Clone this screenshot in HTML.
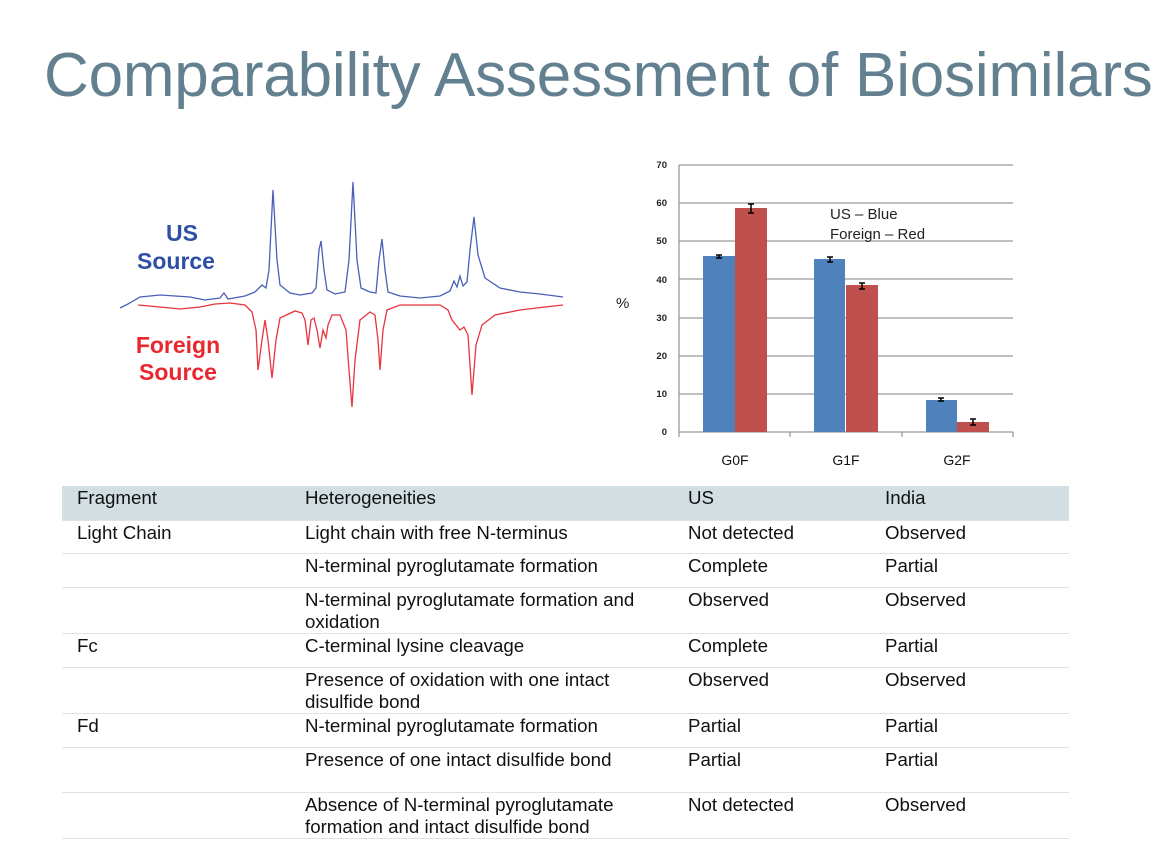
<!DOCTYPE html>
<html><head><meta charset="utf-8"><style>
body{margin:0;width:1164px;height:868px;background:#fff;position:relative;overflow:hidden;font-family:"Liberation Sans",Arial,sans-serif}
.t{position:absolute;left:44px;top:40px;font-size:62px;color:#62808f;white-space:nowrap;letter-spacing:-0.2px}
table{position:absolute;left:62px;top:486px;width:1007px;border-collapse:collapse;font-size:18.7px;color:#111;table-layout:fixed}
td{vertical-align:top;padding:1px 0 0 0;line-height:22px;border-bottom:1px solid #dde3e6;overflow:hidden}
tr.h td{background:#d3dee3;height:33px}
td:first-child{padding-left:15px;width:228px}
td:nth-child(2){width:383px}
td:nth-child(2) div{width:345px}
td:nth-child(3){width:197px}
</style></head><body>
<div class="t">Comparability Assessment of Biosimilars</div>
<svg width="1164" height="868" style="position:absolute;left:0;top:0">
<g font-family="Liberation Sans,Arial,sans-serif" font-weight="bold" font-size="23" text-anchor="middle">
<text x="182" y="241" fill="#2e4fa3">US</text>
<text x="176" y="269" fill="#2e4fa3">Source</text>
<text x="178" y="353" fill="#e8282e">Foreign</text>
<text x="178" y="380" fill="#e8282e">Source</text>
</g>
<path fill="none" stroke="#4a5fb8" stroke-width="1.3" d="M120 308 L128 304 L140 297 L160 295 L175 296 L190 297 L205 300 L220 298 L224 293 L228 299 L245 296 L255 292 L262 285 L266 288 L269 270 L273 190 L277 260 L280 285 L290 293 L300 295 L312 293 L316 288 L319 250 L321 241 L324 270 L327 290 L335 294 L345 292 L349 260 L353 182 L357 260 L361 288 L370 292 L376 293 L379 260 L382 239 L385 270 L388 292 L400 296 L420 298 L440 296 L450 291 L454 281 L457 287 L460 276 L463 286 L467 282 L470 250 L474 217 L478 255 L485 278 L500 288 L520 292 L540 294 L563 297"/>
<path fill="none" stroke="#e8343c" stroke-width="1.3" d="M138 305 L160 307 L180 309 L200 307 L215 304 L230 303 L245 305 L252 312 L256 330 L258 370 L262 340 L265 320 L268 340 L272 378 L276 340 L280 318 L295 311 L302 313 L305 320 L308 345 L311 320 L314 318 L317 330 L320 348 L323 330 L326 338 L328 325 L332 315 L340 315 L346 330 L349 370 L352 407 L355 360 L360 320 L370 312 L375 315 L378 340 L380 370 L383 330 L387 310 L400 305 L440 305 L448 310 L452 320 L456 325 L460 330 L464 327 L468 335 L472 395 L476 345 L482 325 L495 315 L520 310 L545 307 L563 305"/>
<g stroke="#999" stroke-width="1.3">
<line x1="679" y1="165" x2="1013" y2="165"/><line x1="679" y1="203" x2="1013" y2="203"/><line x1="679" y1="241" x2="1013" y2="241"/><line x1="679" y1="279" x2="1013" y2="279"/><line x1="679" y1="318" x2="1013" y2="318"/><line x1="679" y1="356" x2="1013" y2="356"/><line x1="679" y1="394" x2="1013" y2="394"/>
<line x1="679" y1="165" x2="679" y2="432"/>
<line x1="679" y1="432" x2="1013" y2="432"/>
<line x1="679" y1="432" x2="679" y2="437"/><line x1="790" y1="432" x2="790" y2="437"/><line x1="902" y1="432" x2="902" y2="437"/><line x1="1013" y1="432" x2="1013" y2="437"/>
</g>
<g font-family="Liberation Sans,Arial,sans-serif" font-size="9.5" font-weight="bold" fill="#222" text-anchor="end">
<text x="667" y="168">70</text><text x="667" y="206">60</text><text x="667" y="244">50</text><text x="667" y="283">40</text><text x="667" y="321">30</text><text x="667" y="359">20</text><text x="667" y="397">10</text><text x="667" y="435">0</text>
</g>
<text x="616" y="308" font-family="Liberation Sans,Arial,sans-serif" font-size="15" fill="#222">%</text>
<g fill="#4f81bd"><rect x="703" y="256" width="32" height="176"/><rect x="814" y="259" width="31" height="173"/><rect x="926" y="400" width="31" height="32"/></g>
<g fill="#c0504d"><rect x="735" y="208" width="32" height="224"/><rect x="846" y="285" width="32" height="147"/><rect x="957" y="422" width="32" height="10"/></g>
<g stroke="#000" stroke-width="1.5">
<path d="M719 255v3M716 255h6M716 258h6"/>
<path d="M751 204v9M748 204h6M748 213h6"/>
<path d="M830 257v5M827 257h6M827 262h6"/>
<path d="M862 283v6M859 283h6M859 289h6"/>
<path d="M941 398v3M938 398h6M938 401h6"/>
<path d="M973 419v6M970 419h6M970 425h6"/>
</g>
<g font-family="Liberation Sans,Arial,sans-serif" font-size="15" fill="#222">
<text x="830" y="219">US – Blue</text><text x="830" y="239">Foreign – Red</text>
</g>
<g font-family="Liberation Sans,Arial,sans-serif" font-size="14" fill="#111" text-anchor="middle">
<text x="735" y="465">G0F</text><text x="846" y="465">G1F</text><text x="957" y="465">G2F</text>
</g>
</svg>
<table>
<tr class="h"><td>Fragment</td><td><div>Heterogeneities</div></td><td>US</td><td>India</td></tr>
<tr style="height:33px"><td>Light Chain</td><td><div>Light chain with free N-terminus</div></td><td>Not detected</td><td>Observed</td></tr>
<tr style="height:34px"><td></td><td><div>N-terminal pyroglutamate formation</div></td><td>Complete</td><td>Partial</td></tr>
<tr style="height:44px"><td></td><td><div>N-terminal pyroglutamate formation and oxidation</div></td><td>Observed</td><td>Observed</td></tr>
<tr style="height:34px"><td>Fc</td><td><div>C-terminal lysine cleavage</div></td><td>Complete</td><td>Partial</td></tr>
<tr style="height:44px"><td></td><td><div>Presence of oxidation with one intact disulfide bond</div></td><td>Observed</td><td>Observed</td></tr>
<tr style="height:34px"><td>Fd</td><td><div>N-terminal pyroglutamate formation</div></td><td>Partial</td><td>Partial</td></tr>
<tr style="height:45px"><td></td><td><div>Presence of one intact disulfide bond</div></td><td>Partial</td><td>Partial</td></tr>
<tr style="height:45px"><td></td><td><div>Absence of N-terminal pyroglutamate formation and intact disulfide bond</div></td><td>Not detected</td><td>Observed</td></tr>
</table>
</body></html>
